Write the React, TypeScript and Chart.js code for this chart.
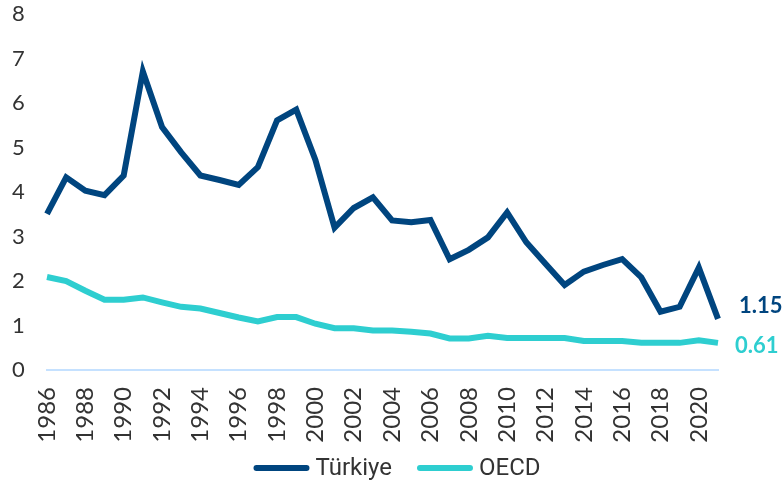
import React, { useEffect, useRef } from "react";
import { Chart, registerables } from "chart.js";

Chart.register(...registerables);

const years: string[] = [
  "1986","1987","1988","1989","1990","1991","1992","1993","1994","1995",
  "1996","1997","1998","1999","2000","2001","2002","2003","2004","2005",
  "2006","2007","2008","2009","2010","2011","2012","2013","2014","2015",
  "2016","2017","2018","2019","2020","2021",
];

const turkiye: number[] = [
  3.51, 4.33, 4.03, 3.93, 4.37, 6.71, 5.46, 4.89, 4.37, 4.27,
  4.16, 4.56, 5.61, 5.85, 4.72, 3.20, 3.64, 3.88, 3.36, 3.32,
  3.37, 2.49, 2.70, 2.98, 3.54, 2.87, 2.39, 1.91, 2.21, 2.36,
  2.49, 2.08, 1.31, 1.42, 2.30, 1.15,
];

const oecd: number[] = [
  2.09, 2.00, 1.78, 1.58, 1.58, 1.63, 1.52, 1.42, 1.38, 1.28,
  1.18, 1.09, 1.19, 1.19, 1.04, 0.94, 0.94, 0.89, 0.89, 0.86,
  0.82, 0.71, 0.71, 0.77, 0.72, 0.72, 0.72, 0.72, 0.65, 0.65,
  0.65, 0.61, 0.61, 0.61, 0.67, 0.61,
];

const endLabels: string[] = ["1.15", "0.61"];

const NAVY = "#00457F";
const TEAL = "#2ECED0";

const endLabelPlugin = {
  id: "endLabels",
  afterDatasetsDraw(chart: any) {
    const ctx = chart.ctx;
    const xs = chart.scales.x;
    const ys = chart.scales.y;
    const last = years.length - 1;
    const x = xs.getPixelForValue(last);
    ctx.save();
    ctx.font = "bold 22px Lato";
    ctx.textBaseline = "middle";
    ctx.textAlign = "left";
    ctx.fillStyle = NAVY;
    ctx.fillText(endLabels[0], x + 21, ys.getPixelForValue(turkiye[last]) - 13);
    ctx.fillStyle = TEAL;
    ctx.fillText(endLabels[1], x + 17, ys.getPixelForValue(oecd[last]) + 3);
    ctx.restore();
  },
};

const legendPlugin = {
  id: "customLegend",
  afterDraw(chart: any) {
    const ctx = chart.ctx;
    const ds = chart.data.datasets;
    const lineLen = 50;
    const cap = 3;
    const textGap = 6;
    const itemGap = 25;
    const y = 468;
    ctx.save();
    ctx.font = "24px Roboto";
    ctx.textBaseline = "middle";
    ctx.textAlign = "left";
    const widths = ds.map((d: any) => ctx.measureText(d.label).width);
    let total = 0;
    widths.forEach((w: number, i: number) => {
      total += lineLen + 2 * cap + textGap + w + (i < widths.length - 1 ? itemGap : 0);
    });
    let x = 397 - total / 2;
    ds.forEach((d: any, i: number) => {
      ctx.strokeStyle = d.borderColor;
      ctx.lineWidth = 6;
      ctx.lineCap = "round";
      ctx.beginPath();
      ctx.moveTo(x + cap, y);
      ctx.lineTo(x + cap + lineLen, y);
      ctx.stroke();
      x += lineLen + 2 * cap + textGap;
      ctx.fillStyle = "#333333";
      ctx.fillText(d.label, x, y + 1);
      x += widths[i] + itemGap;
    });
    ctx.restore();
  },
};

export default function App() {
  const ref = useRef<HTMLCanvasElement | null>(null);
  useEffect(() => {
    document.body.style.margin = "0";
    if (!ref.current) return;
    const chart = new Chart(ref.current, {
      type: "line",
      data: {
        labels: years,
        datasets: [
          {
            label: "Türkiye",
            data: turkiye,
            borderColor: NAVY,
            backgroundColor: NAVY,
            borderWidth: 6,
            pointRadius: 0,
            tension: 0,
            borderJoinStyle: "miter",
            borderCapStyle: "butt",
          },
          {
            label: "OECD",
            data: oecd,
            borderColor: TEAL,
            backgroundColor: TEAL,
            borderWidth: 6,
            pointRadius: 0,
            tension: 0,
            borderJoinStyle: "miter",
            borderCapStyle: "butt",
          },
        ],
      },
      options: {
        animation: false,
        responsive: false,
        maintainAspectRatio: false,
        layout: { autoPadding: false, padding: { left: 12, right: 66, top: 14, bottom: 30 } },
        plugins: {
          tooltip: { enabled: false },
          legend: { display: false },
        },
        scales: {
          x: {
            grid: { display: false, drawTicks: false },
            border: { display: true, color: "#C5E1FF", width: 2 },
            afterFit: (s: any) => {
              s.height = 86;
            },
            ticks: {
              autoSkip: false,
              maxRotation: 90,
              minRotation: 90,
              padding: 17,
              color: "#333333",
              font: { family: "Lato", size: 24 },
              callback: (_v: any, i: number) => (i % 2 === 0 ? years[i] : ""),
            },
          },
          y: {
            min: 0,
            max: 8,
            grid: { display: false, drawTicks: false },
            border: { display: false },
            afterFit: (s: any) => {
              s.width = 35;
            },
            ticks: {
              stepSize: 1,
              padding: 0,
              crossAlign: "far",
              color: "#333333",
              font: { family: "Lato", size: 22 },
            },
          },
        },
      },
      plugins: [endLabelPlugin, legendPlugin],
    } as any);
    return () => chart.destroy();
  }, []);
  return (
    <div style={{ position: "absolute", left: 0, top: 0, width: 784, height: 486 }}>
      <canvas ref={ref} width={784} height={486} />
    </div>
  );
}
